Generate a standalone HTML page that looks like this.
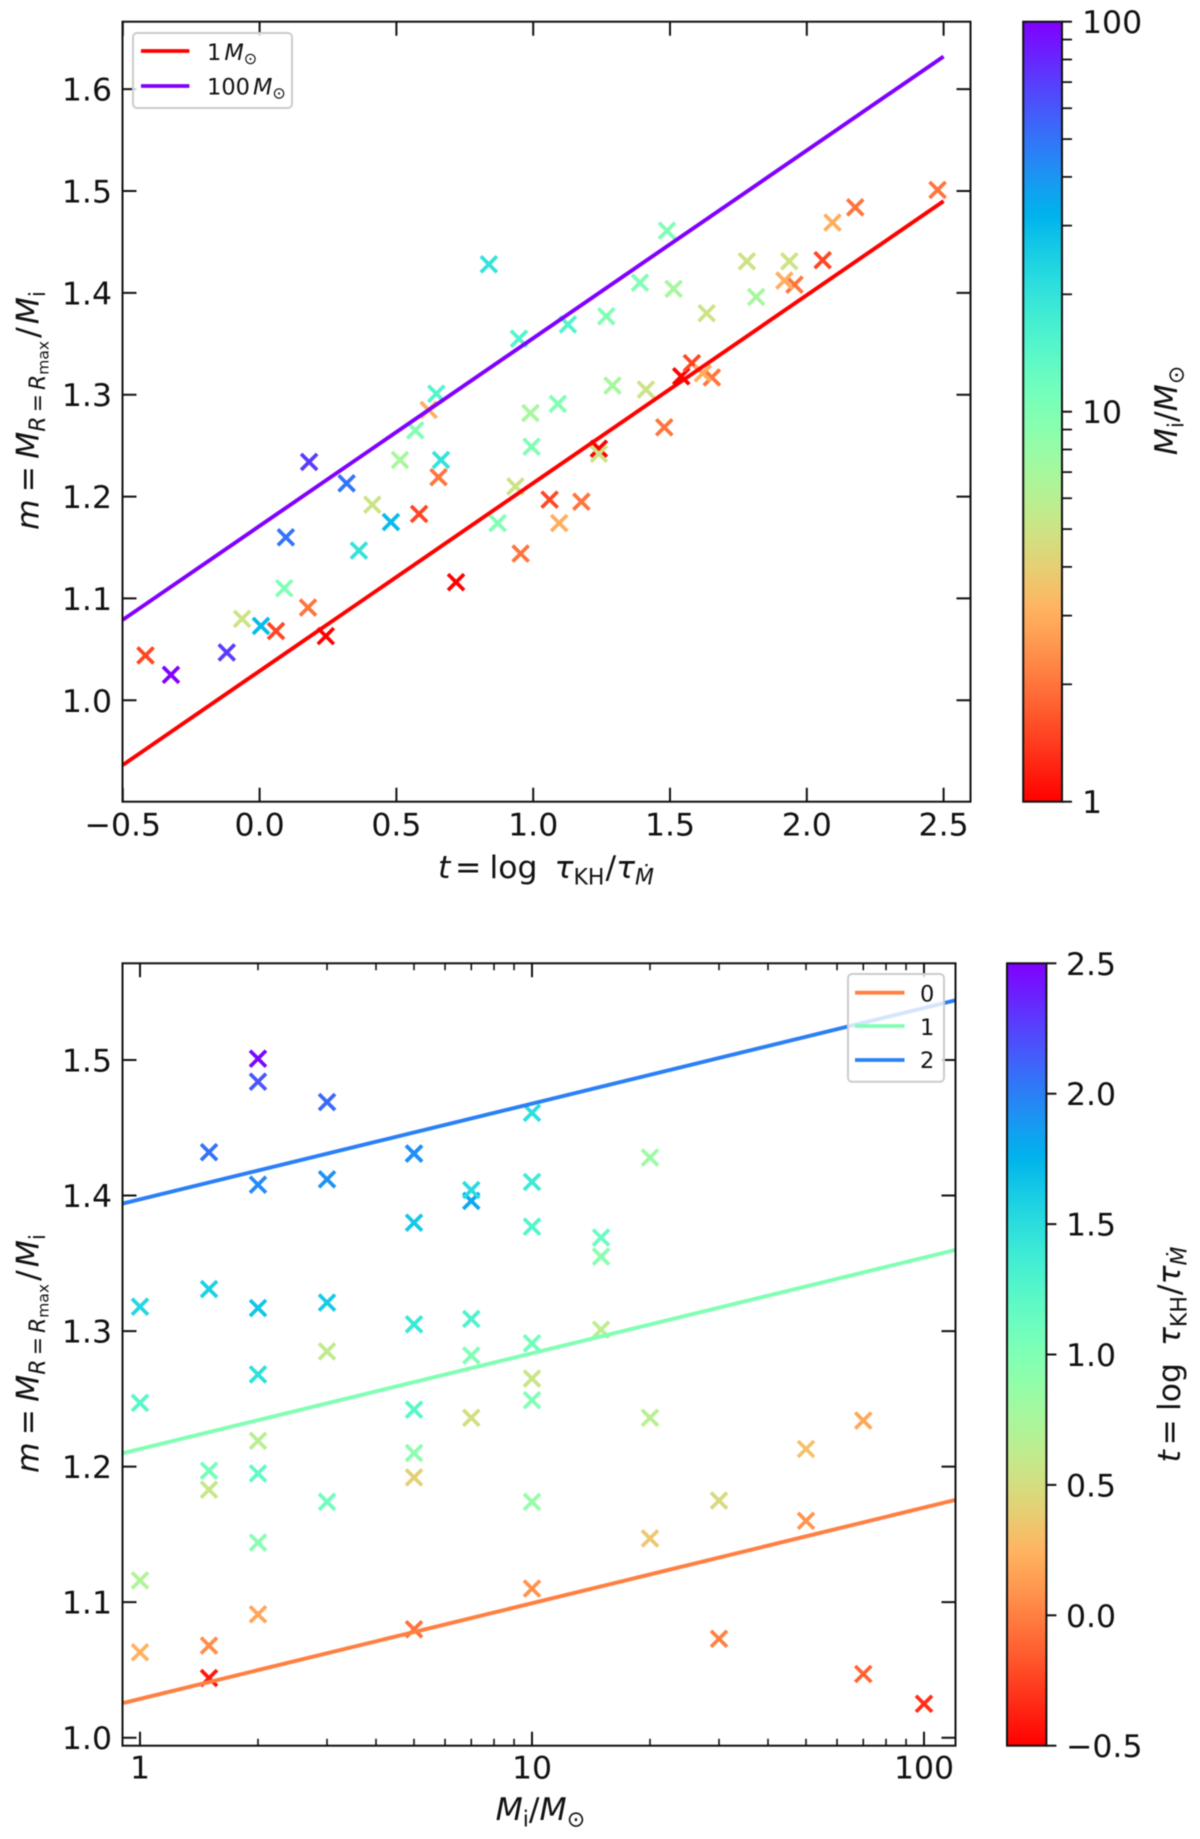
<!DOCTYPE html>
<html lang="en">
<head>
<meta charset="utf-8">
<title>Mass ratio versus accretion timescale</title>
<style>
html,body{margin:0;padding:0;background:#fff;width:1200px;height:1839px;overflow:hidden}
svg{display:block;filter:blur(.55px)}
text{font-family:"DejaVu Sans","Liberation Sans",sans-serif;fill:#111}
.tick{font-size:31.5px}
.title{font-size:31.5px}
.leg{font-size:22.5px}
.i{font-style:italic}
</style>
</head>
<body>
<svg id="figure" xmlns="http://www.w3.org/2000/svg" width="1200" height="1839" viewBox="0 0 1200 1839">
  <defs>
    <clipPath id="clip-top"><rect x="122.5" y="21.7" width="848" height="780"/></clipPath>
    <clipPath id="clip-bottom"><rect x="122.5" y="963.3" width="833" height="782.4"/></clipPath>
    <linearGradient id="grad-top" x1="0" y1="1" x2="0" y2="0"></linearGradient>
    <linearGradient id="grad-bottom" x1="0" y1="1" x2="0" y2="0"></linearGradient>
  </defs>

  <g id="top-plot">
    <rect x="122.5" y="21.7" width="848" height="780" fill="#fff"/>
    <g id="top-markers"></g>
    <g id="top-lines" clip-path="url(#clip-top)"></g>
    <g id="top-ticks"></g>
    <rect x="122.5" y="21.7" width="848" height="780" fill="none" stroke="#111" stroke-width="2"/>
    <g id="top-labels"></g>
    <text class="title" transform="translate(38.5,530) rotate(-90)"><tspan class="i">m</tspan><tspan dx="7">=</tspan><tspan class="i" dx="7">M</tspan><tspan class="i" font-size="22" dy="6.5">R</tspan><tspan font-size="22" dx="4">=</tspan><tspan class="i" font-size="22" dx="4">R</tspan><tspan font-size="15.5" dy="3.5">max</tspan><tspan dy="-10" dx="3">/</tspan><tspan class="i" dx="3">M</tspan><tspan font-size="22" dy="6.5">i</tspan></text>
    <text class="title" x="438" y="878"><tspan class="i">t</tspan><tspan dx="4.7">=</tspan><tspan dx="8">log</tspan><tspan class="i" dx="17">τ</tspan><tspan font-size="22" dy="6.5">KH</tspan><tspan dy="-6.5" dx="1">/</tspan><tspan class="i">τ</tspan><tspan class="i" font-size="22" dy="6.5">Ṁ</tspan></text>
    <g>
      <rect x="133" y="33" width="159" height="75" rx="4" fill="#fff" fill-opacity=".8" stroke="#ccc" stroke-width="2"/>
      <line x1="141" y1="51" x2="189.4" y2="51" stroke="#ff0000" stroke-width="3.8"/>
      <line x1="141" y1="86" x2="189.4" y2="86" stroke="#8000ff" stroke-width="3.8"/>
      <text class="leg" x="207" y="60">1<tspan class="i" dx="3">M</tspan><tspan font-size="16" dy="4">⊙</tspan></text>
      <text class="leg" x="207" y="94.5">100<tspan class="i" dx="3">M</tspan><tspan font-size="16" dy="4">⊙</tspan></text>
    </g>
  </g>

  <g id="top-colorbar">
    <rect x="1023.2" y="21.7" width="38.8" height="780" fill="url(#grad-top)"/>
    <g id="top-cbar-ticks"></g>
    <rect x="1023.2" y="21.7" width="38.8" height="780" fill="none" stroke="#111" stroke-width="2"/>
    <g id="top-cbar-labels"></g>
    <text class="title" transform="translate(1177,410.5) rotate(-90)" text-anchor="middle"><tspan class="i">M</tspan><tspan font-size="22" dy="6.5">i</tspan><tspan dy="-6.5">/</tspan><tspan class="i">M</tspan><tspan font-size="22" dy="6.5">⊙</tspan></text>
  </g>

  <g id="bottom-plot">
    <rect x="122.5" y="963.3" width="833" height="782.4" fill="#fff"/>
    <g id="bottom-markers"></g>
    <g id="bottom-lines" clip-path="url(#clip-bottom)"></g>
    <g id="bottom-ticks"></g>
    <rect x="122.5" y="963.3" width="833" height="782.4" fill="none" stroke="#111" stroke-width="2"/>
    <g id="bottom-labels"></g>
    <text class="title" transform="translate(38.5,1473) rotate(-90)"><tspan class="i">m</tspan><tspan dx="7">=</tspan><tspan class="i" dx="7">M</tspan><tspan class="i" font-size="22" dy="6.5">R</tspan><tspan font-size="22" dx="4">=</tspan><tspan class="i" font-size="22" dx="4">R</tspan><tspan font-size="15.5" dy="3.5">max</tspan><tspan dy="-10" dx="3">/</tspan><tspan class="i" dx="3">M</tspan><tspan font-size="22" dy="6.5">i</tspan></text>
    <text class="title" x="495.6" y="1820"><tspan class="i">M</tspan><tspan font-size="22" dy="6.5">i</tspan><tspan dy="-6.5">/</tspan><tspan class="i">M</tspan><tspan font-size="22" dy="6.5">⊙</tspan></text>
    <g>
      <rect x="848" y="974" width="96" height="107.7" rx="4" fill="#fff" fill-opacity=".8" stroke="#ccc" stroke-width="2"/>
      <line x1="855" y1="992.7" x2="904.5" y2="992.7" stroke="#ff8042" stroke-width="3.8"/>
      <line x1="855" y1="1026" x2="904.5" y2="1026" stroke="#80ffb4" stroke-width="3.8"/>
      <line x1="855" y1="1060" x2="904.5" y2="1060" stroke="#2a80f6" stroke-width="3.8"/>
      <text class="leg" x="920" y="1001.5">0</text>
      <text class="leg" x="920" y="1035">1</text>
      <text class="leg" x="920" y="1068">2</text>
    </g>
  </g>

  <g id="bottom-colorbar">
    <rect x="1007" y="963.3" width="39.4" height="782.4" fill="url(#grad-bottom)"/>
    <g id="bottom-cbar-ticks"></g>
    <rect x="1007" y="963.3" width="39.4" height="782.4" fill="none" stroke="#111" stroke-width="2"/>
    <g id="bottom-cbar-labels"></g>
    <text class="title" transform="translate(1180,1354.5) rotate(-90)" text-anchor="middle"><tspan class="i">t</tspan><tspan dx="4.7">=</tspan><tspan dx="8">log</tspan><tspan class="i" dx="17">τ</tspan><tspan font-size="22" dy="6.5">KH</tspan><tspan dy="-6.5" dx="1">/</tspan><tspan class="i">τ</tspan><tspan class="i" font-size="22" dy="6.5">Ṁ</tspan></text>
  </g>
</svg>

<script>
// ---- data ----
const massValues = [1,1,1,1,
  1.5,1.5,1.5,1.5,1.5,1.5,
  2,2,2,2,2,2,2,2,2,
  3,3,3,3,3,
  5,5,5,5,5,5,5,5,
  7,7,7,7,7,
  10,10,10,10,10,10,10,10,
  15,15,15,
  20,20,20,
  30,30,
  50,50,
  70,70,
  100];
const tValues = [1.24,0.718,0.242,1.541,
  -0.417,0.06,0.583,1.06,1.58,2.058,
  0.177,0.954,1.176,0.654,1.479,1.653,1.955,2.177,2.478,
  1.095,0.618,1.62,1.918,2.094,
  -0.064,0.412,0.935,1.24,1.412,1.634,1.781,1.936,
  0.513,0.99,1.29,1.815,1.513,
  0.09,0.87,0.994,0.569,1.09,1.267,1.39,1.489,
  0.646,0.948,1.127,
  0.363,0.663,0.838,
  0.005,0.48,
  0.096,0.318,
  -0.12,0.181,
  -0.324];
const ratioValues = [1.247,1.116,1.063,1.318,
  1.044,1.068,1.183,1.197,1.331,1.432,
  1.091,1.144,1.195,1.219,1.268,1.317,1.408,1.484,1.501,
  1.174,1.285,1.321,1.412,1.469,
  1.08,1.192,1.21,1.242,1.305,1.38,1.431,1.431,
  1.236,1.282,1.309,1.396,1.404,
  1.11,1.174,1.249,1.265,1.291,1.377,1.41,1.461,
  1.301,1.355,1.369,
  1.147,1.236,1.428,
  1.073,1.175,
  1.16,1.213,
  1.047,1.234,
  1.025];

const topLineT = [-0.5, 2.5];
const topLineMass = [1, 100];
const topLineRatio1 = [0.9365, 1.49];
const topLineRatio100 = [1.079, 1.632];

const bottomLineMass = [0.9, 120];
const bottomLineT = [0, 1, 2];
const bottomLineRatio0 = [1.0254, 1.1754];
const bottomLineRatio1 = [1.2098, 1.3598];
const bottomLineRatio2 = [1.394, 1.544];

const topXTicks = [-0.5, 0, 0.5, 1, 1.5, 2, 2.5];
const topXTickLabels = ['−0.5','0.0','0.5','1.0','1.5','2.0','2.5'];
const topYTicks = [1.0, 1.1, 1.2, 1.3, 1.4, 1.5, 1.6];
const topYTickLabels = ['1.0','1.1','1.2','1.3','1.4','1.5','1.6'];

const bottomXTicks = [1, 10, 100];
const bottomXTickLabels = ['1','10','100'];
const bottomXMinorTicks = [2,3,4,5,6,7,8,9,20,30,40,50,60,70,80,90];
const bottomYTicks = [1.0, 1.1, 1.2, 1.3, 1.4, 1.5];
const bottomYTickLabels = ['1.0','1.1','1.2','1.3','1.4','1.5'];

const massBarTicks = [1, 10, 100];
const massBarTickLabels = ['1','10','100'];
const massBarMinorTicks = [2,3,4,5,6,7,8,9,20,30,40,50,60,70,80,90];
const tBarTicks = [-0.5, 0, 0.5, 1, 1.5, 2, 2.5];
const tBarTickLabels = ['−0.5','0.0','0.5','1.0','1.5','2.0','2.5'];

// ---- axis functions ----
const linear = (d0, d1, r0, r1) => v => r0 + (v - d0) / (d1 - d0) * (r1 - r0);
const logScale = (d0, d1, r0, r1) => v => r0 + (Math.log10(v) - Math.log10(d0)) / (Math.log10(d1) - Math.log10(d0)) * (r1 - r0);

const topX = linear(0, 2.5, 259.6, 943.6);
const topY = linear(1, 1.6, 700.3, 89.1);
const bottomX = logScale(1, 100, 140, 924);
const bottomY = linear(1, 1.5, 1737.7, 1060);
const massBarY = logScale(1, 100, 801.7, 21.7);
const tBarY = linear(-0.5, 2.5, 1745.7, 963.3);

// ---- colour ----
function rainbow(x) {
  const c = v => Math.round(255 * Math.max(0, Math.min(1, v)));
  return 'rgb(' + c(Math.abs(2 * x - 0.5)) + ',' + c(Math.sin(Math.PI * x)) + ',' + c(Math.cos(Math.PI * x / 2)) + ')';
}
const massColor = M => rainbow(1 - Math.log10(M) / 2);
const tColor = t => rainbow(1 - (t + 0.5) / 3);

// ---- helpers ----
const NS = 'http://www.w3.org/2000/svg';
function mk(parent, tag, attrs, text) {
  const el = document.createElementNS(NS, tag);
  for (const k in attrs) el.setAttribute(k, attrs[k]);
  if (text !== undefined) el.textContent = text;
  document.getElementById(parent).appendChild(el);
  return el;
}
const TICK = '#111';
function markerPath(x, y) {
  const h = 8;
  return 'M' + (x - h) + ' ' + (y - h) + 'L' + (x + h) + ' ' + (y + h) + 'M' + (x - h) + ' ' + (y + h) + 'L' + (x + h) + ' ' + (y - h);
}

// ---- colorbar gradients ----
for (let i = 0; i <= 64; i++) {
  const f = i / 64;
  const a = mk('grad-top', 'stop', {offset: f, 'stop-color': rainbow(1 - f)});
  
  
  const b = mk('grad-bottom', 'stop', {offset: f, 'stop-color': rainbow(1 - f)});
  
  
}

// ---- markers ----
massValues.forEach((M, i) => {
  const a = mk('top-markers', 'path', {d: markerPath(topX(tValues[i]), topY(ratioValues[i])), fill: 'none', stroke: massColor(M), 'stroke-width': 3.7});
  
  
  const b = mk('bottom-markers', 'path', {d: markerPath(bottomX(M), bottomY(ratioValues[i])), fill: 'none', stroke: tColor(tValues[i]), 'stroke-width': 3.7});
  
  
});

// ---- fit lines ----
[topLineRatio1, topLineRatio100].forEach((vals, k) => {
  const l = mk('top-lines', 'line', {x1: topX(topLineT[0]), y1: topY(vals[0]), x2: topX(topLineT[1]), y2: topY(vals[1]), stroke: massColor(topLineMass[k]), 'stroke-width': 3.9});
  
  
});
[bottomLineRatio0, bottomLineRatio1, bottomLineRatio2].forEach((vals, k) => {
  const l = mk('bottom-lines', 'line', {x1: bottomX(bottomLineMass[0]), y1: bottomY(vals[0]), x2: bottomX(bottomLineMass[1]), y2: bottomY(vals[1]), stroke: tColor(bottomLineT[k]), 'stroke-width': 3.9});
  
  
});

// ---- top plot ticks ----
topXTicks.forEach((v, i) => {
  const x = topX(v);
  const t1 = mk('top-ticks', 'path', {d: 'M' + x + ' 801.7V787.7M' + x + ' 21.7V35.7', stroke: TICK, 'stroke-width': 2});
  
  
  const lb = mk('top-labels', 'text', {x: x, y: 835.5, 'text-anchor': 'middle', class: 'tick'}, topXTickLabels[i]);
  
  
});
topYTicks.forEach((v, i) => {
  const y = topY(v);
  const t1 = mk('top-ticks', 'path', {d: 'M122.5 ' + y + 'H136.5M970.5 ' + y + 'H956.5', stroke: TICK, 'stroke-width': 2});
  
  
  const lb = mk('top-labels', 'text', {x: 112, y: y + 11.5, 'text-anchor': 'end', class: 'tick'}, topYTickLabels[i]);
  
  
});

// ---- bottom plot ticks ----
bottomXTicks.forEach((v, i) => {
  const x = bottomX(v);
  const t1 = mk('bottom-ticks', 'path', {d: 'M' + x + ' 1745.7V1731.7M' + x + ' 963.3V977.3', stroke: TICK, 'stroke-width': 2});
  
  
  const lb = mk('bottom-labels', 'text', {x: x, y: 1778.5, 'text-anchor': 'middle', class: 'tick'}, bottomXTickLabels[i]);
  
  
});
bottomXMinorTicks.forEach(v => {
  const x = bottomX(v);
  const t1 = mk('bottom-ticks', 'path', {d: 'M' + x + ' 1745.7V1738.7M' + x + ' 963.3V970.3', stroke: TICK, 'stroke-width': 1.6});
  
  
});
bottomYTicks.forEach((v, i) => {
  const y = bottomY(v);
  const t1 = mk('bottom-ticks', 'path', {d: 'M122.5 ' + y + 'H136.5M955.5 ' + y + 'H941.5', stroke: TICK, 'stroke-width': 2});
  
  
  const lb = mk('bottom-labels', 'text', {x: 112, y: y + 11.5, 'text-anchor': 'end', class: 'tick'}, bottomYTickLabels[i]);
  
  
});

// ---- colorbar ticks ----
massBarTicks.forEach((v, i) => {
  const y = massBarY(v);
  const t1 = mk('top-cbar-ticks', 'line', {x1: 1062, x2: 1072, y1: y, y2: y, stroke: TICK, 'stroke-width': 2});
  
  
  const lb = mk('top-cbar-labels', 'text', {x: 1082, y: y + 11.5, class: 'tick'}, massBarTickLabels[i]);
  
  
});
massBarMinorTicks.forEach(v => {
  const y = massBarY(v);
  const t1 = mk('top-cbar-ticks', 'line', {x1: 1062, x2: 1072, y1: y, y2: y, stroke: TICK, 'stroke-width': 1.8});
  
  
});
tBarTicks.forEach((v, i) => {
  const y = tBarY(v);
  const t1 = mk('bottom-cbar-ticks', 'line', {x1: 1046.4, x2: 1056.4, y1: y, y2: y, stroke: TICK, 'stroke-width': 2});
  
  
  const lb = mk('bottom-cbar-labels', 'text', {x: 1066, y: y + 11.5, class: 'tick'}, tBarTickLabels[i]);
  
  
});
</script>
</body>
</html>
